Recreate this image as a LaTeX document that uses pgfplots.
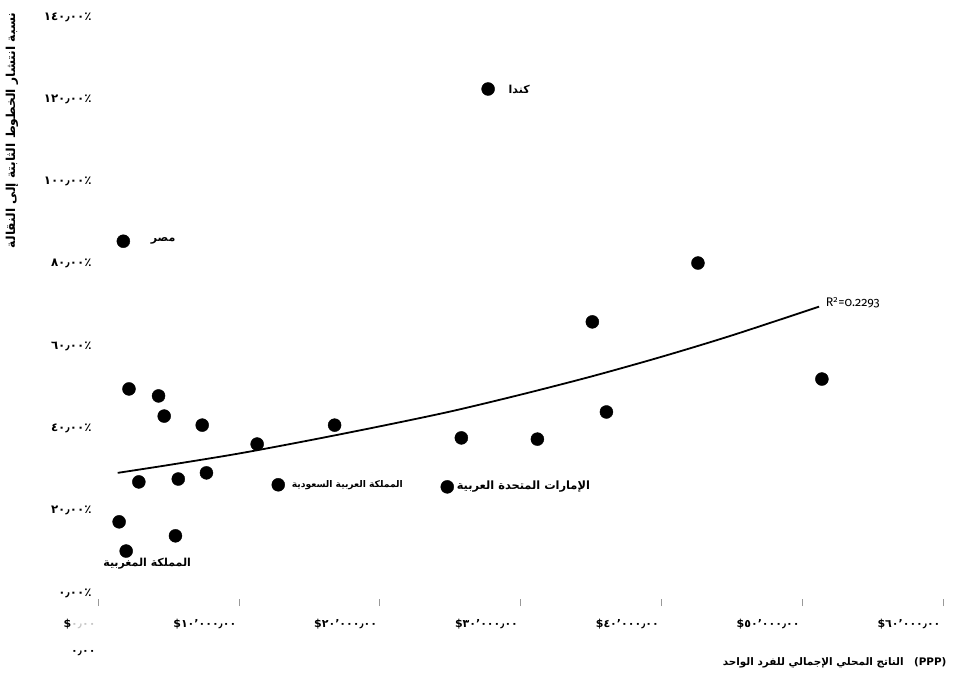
\documentclass[border=0pt]{standalone}
\usepackage{fontspec}
\usepackage{pgfplots}
\usepackage{pgfplotstable}
\pgfplotsset{compat=1.18}
\TeXXeTstate=1
\newfontfamily\arabicfont[Script=Arabic]{DejaVu Sans}
\newfontfamily\rfont[Numbers=OldStyle]{Fira Sans}
% a number and its sign kept in separate boxes, left to right
\newcommand\w[1]{\hbox{#1}}

% GDP per capita (thousand $, PPP) vs. fixed-to-mobile line ratio (%)
\pgfplotstableread{
x    y
27.7 122.5
1.8  85.5
2.2  49.6
4.3  47.9
4.7  43.0
7.4  40.8
11.3 36.2
16.8 40.8
2.9  27.0
5.7  27.7
7.7  29.2
1.5  17.3
5.5  13.9
2.0  10.2
25.8 37.7
31.2 37.4
35.1 65.9
36.1 44.0
42.6 80.2
51.4 52.0
12.8 26.3
24.8 25.8
}\countries

% exponential trend line
\pgfplotstableread{
x    y
1.4  29.2
5    31.1
10   33.9
15   37.1
20   40.5
25   44.1
30   48.2
35   52.6
40   57.4
45   62.6
51.2 69.6
}\trend

\begin{document}
\begin{tikzpicture}
\path[use as bounding box] (0,0) rectangle (958pt,681pt);
\begin{axis}[
  at={(98pt,75pt)}, anchor=south west,
  scale only axis, width=845pt, height=589pt,
  xmin=0, xmax=60, ymin=-3.16, ymax=140,
  axis line style={draw=none},
  xtick pos=left, ytick pos=left,
  tick align=inside, major tick length=7pt,
  x tick style={black!40, line width=0.5pt},
  y tick style={draw=none},
  xtick={0,10,...,60}, ytick={0,20,...,140},
  xticklabels={
    {\w{\$}\w{\textcolor{black!22}{٠٫٠٠}}\\[15pt]\w{٠٫٠٠}},
    \w{\$}\w{١٠٬٠٠٠٫٠٠},\w{\$}\w{٢٠٬٠٠٠٫٠٠},\w{\$}\w{٣٠٬٠٠٠٫٠٠},
    \w{\$}\w{٤٠٬٠٠٠٫٠٠},\w{\$}\w{٥٠٬٠٠٠٫٠٠},\w{\$}\w{٦٠٬٠٠٠٫٠٠}},
  yticklabels={\w{٠٫٠٠}\w{٪},\w{٢٠٫٠٠}\w{٪},\w{٤٠٫٠٠}\w{٪},\w{٦٠٫٠٠}\w{٪},
    \w{٨٠٫٠٠}\w{٪},\w{١٠٠٫٠٠}\w{٪},\w{١٢٠٫٠٠}\w{٪},\w{١٤٠٫٠٠}\w{٪}},
  xticklabel style={font=\arabicfont\bfseries\fontsize{11}{12}\selectfont,
    anchor=north east, align=right, yshift=-10pt, xshift=1pt},
  yticklabel style={font=\arabicfont\bfseries\fontsize{11.8}{13}\selectfont, xshift=-3pt},
  clip=false,
]
\addplot[black, line width=1.8pt, smooth] table[x=x, y=y] {\trend};
\addplot[only marks, mark=*, mark size=6.5pt, black] table[x=x, y=y] {\countries};

\begin{scope}[font=\arabicfont\bfseries\fontsize{11}{13}\selectfont]
\node[anchor=west, xshift=24pt] at (axis cs:1.8,85.5) {مصر};
\node[anchor=west, xshift=17pt] at (axis cs:27.7,122.5) {كندا};
\node[anchor=north, xshift=21pt, yshift=-4pt] at (axis cs:2.0,10.2) {\beginR المملكة المغربية\endR};
\node[anchor=west, xshift=10pt, font=\arabicfont\bfseries\fontsize{9.2}{12}\selectfont]
  at (axis cs:12.8,26.3) {\beginR المملكة العربية السعودية\endR};
\node[anchor=west, xshift=6pt, font=\arabicfont\bfseries\fontsize{11.4}{13}\selectfont]
  at (axis cs:24.8,25.8) {\beginR الإمارات المتحدة العربية\endR};
\end{scope}
\node[anchor=west, font=\rfont\fontsize{12.5}{14}\selectfont, inner sep=1pt] at (axis cs:51.6,70.5) {R\textsuperscript{2}=0.2293};
\end{axis}
\node[rotate=90, anchor=east, font=\arabicfont\bfseries\fontsize{12.3}{14}\selectfont]
  at (12pt,672pt) {\beginR نسبة انتشار الخطوط الثابتة إلى النقالة\endR};
\node[anchor=east, font=\arabicfont\bfseries\fontsize{10.4}{13}\selectfont]
  at (950pt,18pt) {\beginR الناتج المحلي الإجمالي للفرد الواحد\endR\quad(PPP)};
\end{tikzpicture}
\end{document}
